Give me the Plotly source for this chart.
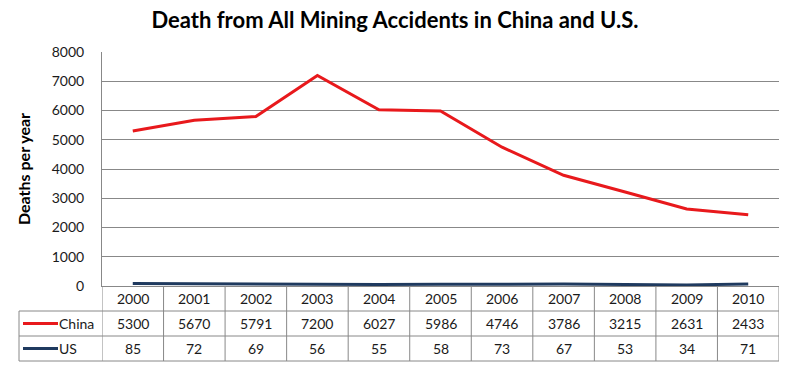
import plotly.graph_objects as go

years = ["2000", "2001", "2002", "2003", "2004", "2005", "2006", "2007", "2008", "2009", "2010"]
china = [5300, 5670, 5791, 7200, 6027, 5986, 4746, 3786, 3215, 2631, 2433]
us = [85, 72, 69, 56, 55, 58, 73, 67, 53, 34, 71]
series_names = ["China", "US"]
series_colors = ["#E8191C", "#1F3A5F"]
y_ticks = [0, 1000, 2000, 3000, 4000, 5000, 6000, 7000, 8000]

W, H = 790, 367
L, R, T, B = 102, 11, 52, 81
plot_h = H - T - B
plot_w = W - L - R
FONT = "Lato"
GRID = "#888888"
TXT = "#1A1A1A"

def py(pix):  # pixel row -> paper y
    return (H - B - pix) / plot_h

def px(pix):  # pixel col -> paper x
    return (pix - L) / plot_w

xs = list(range(len(years)))
fig = go.Figure()
for name, vals, col in zip(series_names, [china, us], series_colors):
    fig.add_trace(go.Scatter(x=xs, y=vals, mode="lines", name=name,
                             line=dict(color=col, width=3), hoverinfo="skip"))

row_h = 25
row_lines = [H - B + row_h * k for k in range(1, 4)]
shapes = []
for rl in row_lines:
    shapes.append(dict(type="line", xref="paper", yref="paper", x0=px(19), x1=1.0,
                       y0=py(rl), y1=py(rl), line=dict(color=GRID, width=1)))
shapes.append(dict(type="line", xref="paper", yref="paper", x0=px(19), x1=px(19),
                   y0=py(row_lines[0]), y1=py(row_lines[-1]), line=dict(color=GRID, width=1)))
for k in range(len(years) + 1):
    shapes.append(dict(type="line", xref="x", yref="paper", x0=k - 0.5, x1=k - 0.5,
                       y0=0, y1=py(row_lines[-1]), line=dict(color=GRID, width=1)))

annotations = []
row_centers = [H - B + row_h * (k + 0.5) for k in range(3)]
for i, yr in enumerate(years):
    annotations.append(dict(x=i, y=py(row_centers[0]), xref="x", yref="paper", text=yr,
                            showarrow=False, yanchor="middle", xanchor="center",
                            font=dict(family=FONT, size=14, color=TXT)))
for r, vals in enumerate([china, us]):
    for i, v in enumerate(vals):
        annotations.append(dict(x=i, y=py(row_centers[r + 1]), xref="x", yref="paper",
                                text=str(v), showarrow=False, yanchor="middle", xanchor="center",
                                font=dict(family=FONT, size=14, color=TXT)))
    shapes.append(dict(type="line", xref="paper", yref="paper", x0=px(23), x1=px(58),
                       y0=py(row_centers[r + 1]), y1=py(row_centers[r + 1]),
                       line=dict(color=series_colors[r], width=3)))
    annotations.append(dict(x=px(57), y=py(row_centers[r + 1]), xref="paper", yref="paper",
                            text=series_names[r], showarrow=False, xanchor="left", yanchor="middle",
                            font=dict(family=FONT, size=14, color=TXT)))

annotations.append(dict(x=px(23), y=0.5, xref="paper", yref="paper", text="<b>Deaths per year</b>",
                        textangle=-90, showarrow=False, xanchor="center", yanchor="middle",
                        font=dict(family=FONT, size=16, color="#000000")))

fig.update_layout(
    width=W, height=H,
    margin=dict(l=L, r=R, t=T, b=B),
    paper_bgcolor="white", plot_bgcolor="white",
    showlegend=False,
    title=dict(text="<b>Death from All Mining Accidents in China and U.S.</b>",
               x=0.5, xanchor="center", y=1 - 20 / H, yanchor="middle",
               font=dict(family=FONT, size=22, color="#000000")),
    xaxis=dict(range=[-0.5, len(years) - 0.5], showticklabels=False, showgrid=False,
               zeroline=False, showline=True, linecolor=GRID, linewidth=1, ticks=""),
    yaxis=dict(range=[0, 8000], tickvals=y_ticks, showgrid=True, gridcolor=GRID, gridwidth=1,
               zeroline=False, showline=True, linecolor=GRID, linewidth=1, ticks="",
               ticklabelstandoff=14,
               tickfont=dict(family=FONT, size=14, color=TXT)),
    shapes=shapes,
    annotations=annotations,
)
fig.write_html("out.html", config={"displayModeBar": False},
               post_script="document.body.style.margin='0';document.body.style.padding='0';")
